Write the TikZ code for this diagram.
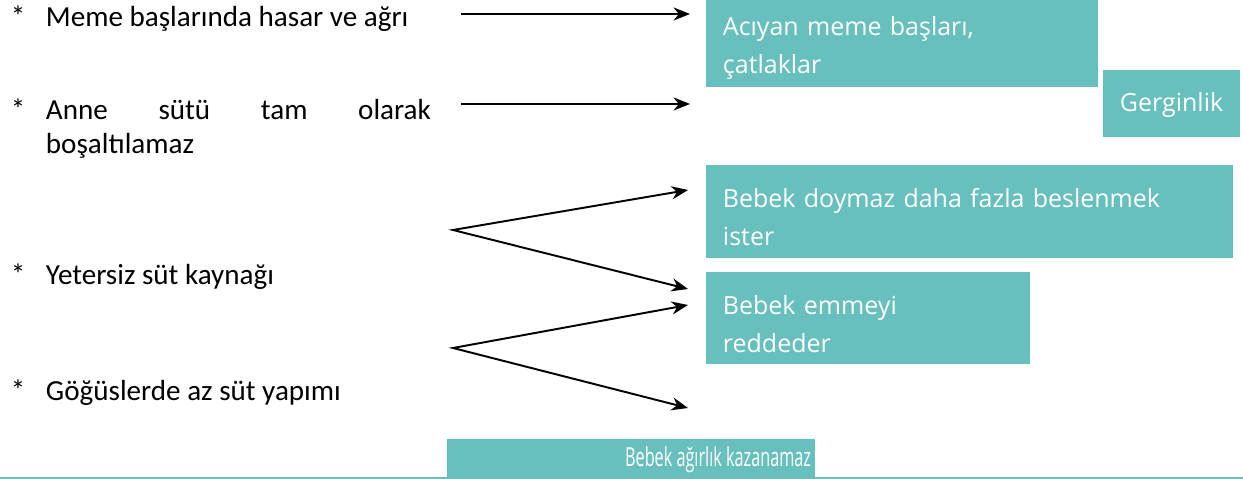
\documentclass[tikz,border=0pt]{standalone}
\usepackage{fontspec}
\setmainfont{Carlito}
\newfontfamily\boxfont{Open Sans}
\usepackage{xcolor}
\usetikzlibrary{arrows.meta}
\definecolor{boxteal}{RGB}{103,192,190}
\tikzset{
	star/.style={anchor=base west,inner sep=0pt,font=\fontsize{12}{13.8}\selectfont},
	item/.style={anchor=base west,inner sep=0pt,align=left,font=\fontsize{12}{13.8}\selectfont},
	box/.style={fill=boxteal},
	wtext/.style={anchor=base west,inner sep=0pt,text=white,align=left,text width=9cm,
		font=\boxfont\fontsize{10.3}{15.5}\selectfont}
}

\begin{document}
\begin{tikzpicture}[x=0.0145cm,y=-0.0145cm,line width=0.8pt,
	>={Stealth[length=6.8pt,width=5.4pt]}]
	\useasboundingbox (0,0) rectangle (1243,479);
	% left column
	\node [star] (s1) at (10,27) {*};
	\node [item] (c1) at (45,27) {Meme başlarında hasar ve ağrı};
	\node [star] (s2) at (10,120) {*};
	\node [item,text width=5.58cm] (c2) at (45,120) {Anne\hfill sütü\hfill tam\hfill olarak\\boşaltılamaz};
	\node [star] (s3) at (10,285) {*};
	\node [item] (c3) at (45,285) {Yetersiz süt kaynağı};
	\node [star] (s4) at (10,400) {*};
	\node [item] (c4) at (45,400) {Göğüslerde az süt yapımı};
	% boxes
	\path [box] (706,0) rectangle (1098,87);
	\path [box] (1103,70) rectangle (1240,137);
	\path [box] (706,165) rectangle (1233,258);
	\path [box] (706,272) rectangle (1030,364);
	\path [box] (447,439) rectangle (815,477);
	\draw [boxteal,line width=1pt] (0,478) -- (1243,478);
	\node [wtext] (acy) at (722,36) {Acıyan meme başları,\\çatlaklar};
	\node [wtext] (gerg) at (1119,112) {Gerginlik};
	\node [wtext] (doy) at (722,208) {Bebek doymaz daha fazla beslenmek\\ister};
	\node [wtext] (emme) at (722,315) {Bebek emmeyi\\reddeder};
	\node [wtext,anchor=base east,text width=] (agir) at (812,466) {\scalebox{0.65}[1.05]{Bebek ağırlık kazanamaz}};
	% arrows
	\coordinate (a1s) at (461,14);
	\coordinate (a1e) at (690,14);
	\coordinate (a2s) at (461,104);
	\coordinate (a2e) at (690,104);
	\coordinate (v1) at (453,230);
	\coordinate (v1u) at (688,190);
	\coordinate (v1d) at (688,289);
	\coordinate (v2) at (453,348);
	\coordinate (v2u) at (688,305);
	\coordinate (v2d) at (688,408);
	\draw [->] (a1s) -- (a1e);
	\draw [->] (a2s) -- (a2e);
	\draw [<->] (v1u) -- (v1) -- (v1d);
	\draw [<->] (v2u) -- (v2) -- (v2d);
\end{tikzpicture}
\end{document}
